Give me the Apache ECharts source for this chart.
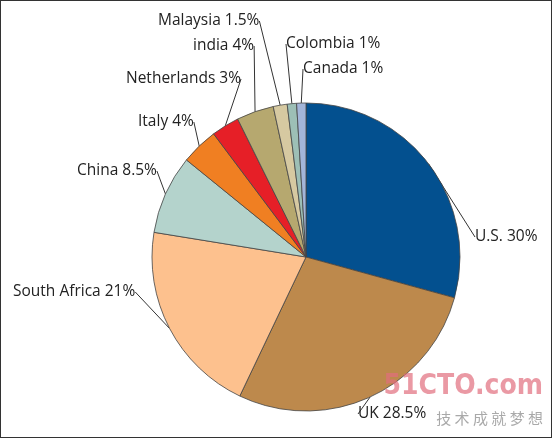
<!DOCTYPE html>
<html><head><meta charset="utf-8">
<script src="https://cdn.jsdelivr.net/npm/echarts@6/dist/echarts.min.js"></script>
<style>html,body{margin:0;padding:0;background:#fff}#c{width:550px;height:436px;border:1px solid #333}</style>
</head><body><div id="c"></div>
<script>
const categories = ['U.S.','UK','South Africa','China','Italy','Netherlands','india','Malaysia','Colombia','Canada'];
const values = [30,28.5,21,8.5,4,3,4,1.5,1,1];
const colors = ['#03508f','#bd894c','#fdc18e','#b4d3cc','#f07f22','#e61f27','#b6a86f','#d6c9a1','#9dbfb6','#a3b5d9'];
const labelPos = [[474,236],[357,413],[12,291],[76,170],[137,121],[125,78],[192,45],[157,20],[285,43],[302,68]];
const chart = echarts.init(document.getElementById('c'));
chart.setOption({
  graphic:[
    {type:'text',right:8,top:372,z:100,style:{text:'51CTO.com',font:'bold 28px "DejaVu Sans Condensed"',fill:'rgba(225,110,125,0.7)'}},
    {type:'text',right:8,top:410,z:100,style:{text:'技 术 成 就 梦 想',font:'15px "Noto Sans CJK SC"',fill:'rgba(140,140,140,0.75)'}}
  ],
  series:[{
    type:'pie', center:[305,256], radius:154, startAngle:90, clockwise:true,
    data: categories.map((n,i)=>({name:n,value:values[i],itemStyle:{color:colors[i]}})),
    itemStyle:{borderColor:'#444',borderWidth:0.8},
    label:{formatter:p=>p.name+' '+p.value+'%',color:'#222',fontSize:15.5,fontFamily:'"Open Sans", sans-serif'},
    labelLine:{show:true,length:20,length2:0,lineStyle:{color:'#333',width:1}},
    labelLayout:function(p){const q=labelPos[p.dataIndex];return {x:q[0],y:q[1],align:'left',verticalAlign:'middle'};}
  }]
});
</script></body></html>
